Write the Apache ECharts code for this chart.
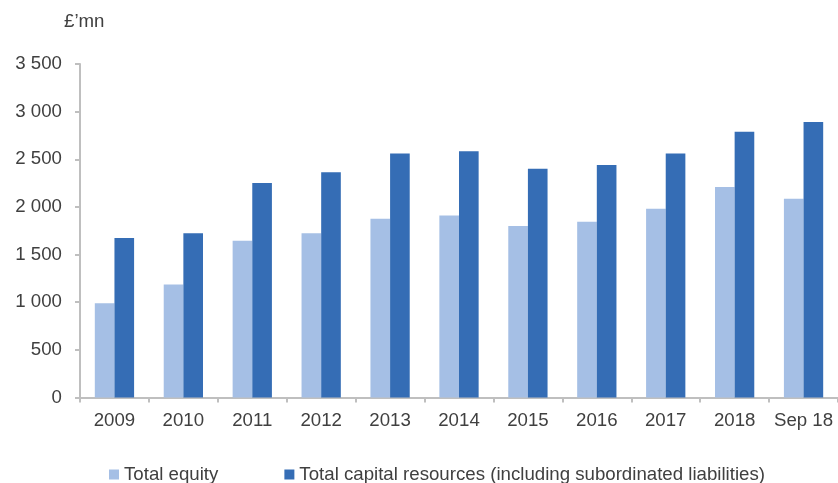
<!DOCTYPE html>
<html>
<head>
<meta charset="utf-8">
<script src="https://cdn.jsdelivr.net/npm/echarts@6/dist/echarts.min.js"></script>
<style>
  html, body { margin: 0; padding: 0; background: #ffffff; }
  #chart { width: 838px; height: 483px; }
</style>
</head>
<body>
<div id="chart"></div>
<script>
// Categories (years) and series values, £ million
const categories = ['2009', '2010', '2011', '2012', '2013', '2014', '2015', '2016', '2017', '2018', 'Sep 18'];
const totalEquity = [990, 1185, 1645, 1725, 1875, 1910, 1800, 1845, 1980, 2210, 2085];
const totalCapital = [1675, 1725, 2250, 2365, 2560, 2585, 2400, 2440, 2560, 2790, 2890];
const seriesNames = ['Total equity', 'Total capital resources (including subordinated liabilities)'];
const unitLabel = '£’mn';

const textColor = '#404040';
const axisColor = '#bfbfbf';
const fontFamily = '"Liberation Sans", Arial, sans-serif';
const fontSize = 18.67;

function spaced(v) {
  return String(v).replace(/\B(?=(\d{3})+(?!\d))/g, ' ');
}

const chart = echarts.init(document.getElementById('chart'), null, { renderer: 'canvas' });
chart.setOption({
  animation: false,
  backgroundColor: '#ffffff',
  textStyle: { fontFamily: fontFamily },
  graphic: [{
    type: 'text',
    left: 64,
    top: 12,
    style: { text: unitLabel, fill: textColor, font: fontSize + 'px ' + fontFamily }
  }],
  grid: { left: 80, right: -3, top: 64, bottom: 85.5, containLabel: false },
  legend: {
    left: 109,
    top: 465,
    padding: 0,
    itemWidth: 10,
    itemHeight: 10,
    itemGap: 66,
    icon: 'rect',
    textStyle: { color: textColor, fontSize: fontSize, fontFamily: fontFamily },
    data: seriesNames
  },
  xAxis: {
    type: 'category',
    data: categories,
    axisLine: { lineStyle: { color: axisColor, width: 2 } },
    axisTick: { show: true, length: 5, lineStyle: { color: axisColor, width: 2 } },
    axisLabel: { color: textColor, fontSize: fontSize, fontFamily: fontFamily, margin: 14, interval: 0 }
  },
  yAxis: {
    type: 'value',
    min: 0,
    max: 3500,
    interval: 500,
    axisLine: { show: true, lineStyle: { color: axisColor, width: 2 } },
    axisTick: { show: true, length: 5, lineStyle: { color: axisColor, width: 2 } },
    splitLine: { show: false },
    axisLabel: { color: textColor, fontSize: fontSize, fontFamily: fontFamily, margin: 18, formatter: spaced }
  },
  series: [
    {
      name: seriesNames[0],
      type: 'bar',
      data: totalEquity,
      barGap: '0%',
      barCategoryGap: '43%',
      itemStyle: { color: '#a5bfe5' }
    },
    {
      name: seriesNames[1],
      type: 'bar',
      data: totalCapital,
      barGap: '0%',
      barCategoryGap: '43%',
      itemStyle: { color: '#356db5' }
    }
  ]
});
</script>
</body>
</html>
